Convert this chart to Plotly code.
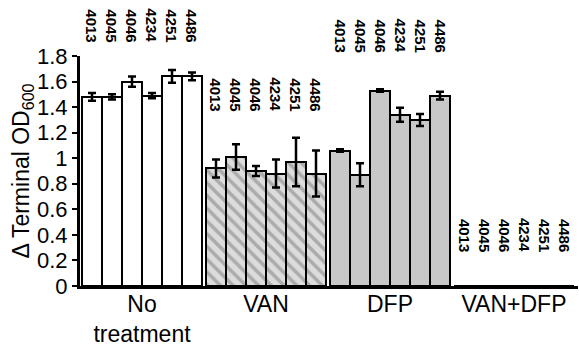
import plotly.graph_objects as go

groups = ["No<br>treatment", "VAN", "DFP", "VAN+DFP"]
strains = ["4013", "4045", "4046", "4234", "4251", "4486"]

no_treatment = [1.48, 1.48, 1.60, 1.49, 1.64, 1.64]
no_treatment_err = [0.03, 0.02, 0.04, 0.02, 0.05, 0.03]
van = [0.92, 1.01, 0.90, 0.88, 0.97, 0.88]
van_err = [0.07, 0.10, 0.04, 0.11, 0.19, 0.18]
dfp = [1.06, 0.87, 1.53, 1.34, 1.30, 1.49]
dfp_err = [0.01, 0.09, 0.01, 0.055, 0.047, 0.03]
van_dfp = [0, 0, 0, 0, 0, 0]
van_dfp_err = [0, 0, 0, 0, 0, 0]

values = [no_treatment, van, dfp, van_dfp]
errors = [no_treatment_err, van_err, dfp_err, van_dfp_err]

# layout constants
GROUP_STEP = 6.2
Y_MAX = 1.8
label_center_y = [2.04, 1.50, 1.96, 0.40]  # vertical centre of strain labels (data units)
FONT = "Liberation Sans, Arial, sans-serif"

fig = go.Figure()
styles = [
    dict(color="white"),
    dict(color="#dcdcdc", pattern=dict(shape="\\", fgcolor="#7a7a7a", bgcolor="#dcdcdc",
                                        size=9, solidity=0.4)),
    dict(color="#c8c8c8"),
    dict(color="#c8c8c8"),
]

for g, (vals, errs) in enumerate(zip(values, errors)):
    xs = [g * GROUP_STEP + i + 0.5 for i in range(len(strains))]
    fig.add_trace(go.Bar(
        x=xs, y=vals, width=1,
        marker=dict(line=dict(color="black", width=2), **styles[g]),
        error_y=dict(type="data", array=errs, visible=(g < 3), color="black",
                     thickness=2.5, width=4),
        showlegend=False,
    ))
    for i, s in enumerate(strains):
        fig.add_annotation(
            x=xs[i], xref="x", y=label_center_y[g] / Y_MAX, yref="paper",
            text="<b>" + s + "</b>", textangle=90, showarrow=False,
            font=dict(family=FONT, size=15, color="black"),
            xanchor="center", yanchor="middle",
        )

fig.update_layout(
    width=579, height=348,
    margin=dict(l=80, r=1, t=56, b=62),
    plot_bgcolor="white", paper_bgcolor="white",
    bargap=0,
    font=dict(family=FONT, color="black"),
)
fig.update_xaxes(
    range=[-0.1, 24.8],
    tickvals=[g * GROUP_STEP + 3 for g in range(len(groups))],
    ticktext=groups,
    tickfont=dict(size=23, family=FONT),
    ticklabelstandoff=-5,
    showline=True, linecolor="black", linewidth=3,
    ticks="", showgrid=False, zeroline=False, automargin=False,
)
fig.update_yaxes(
    range=[0, Y_MAX],
    tickvals=[0, 0.2, 0.4, 0.6, 0.8, 1, 1.2, 1.4, 1.6, 1.8],
    ticktext=["0", "0.2", "0.4", "0.6", "0.8", "1", "1.2", "1.4", "1.6", "1.8"],
    tickfont=dict(size=22, family=FONT),
    ticks="outside", ticklen=5, tickwidth=2, tickcolor="black",
    showline=True, linecolor="black", linewidth=3,
    showgrid=False, zeroline=False, automargin=False,
    title=dict(text="Δ Terminal OD<sub>600</sub>", font=dict(size=23, family=FONT), standoff=0),
)

fig.write_html("out.html", config={"displayModeBar": False},
               post_script="document.body.style.margin='0';document.body.style.overflow='hidden';")
